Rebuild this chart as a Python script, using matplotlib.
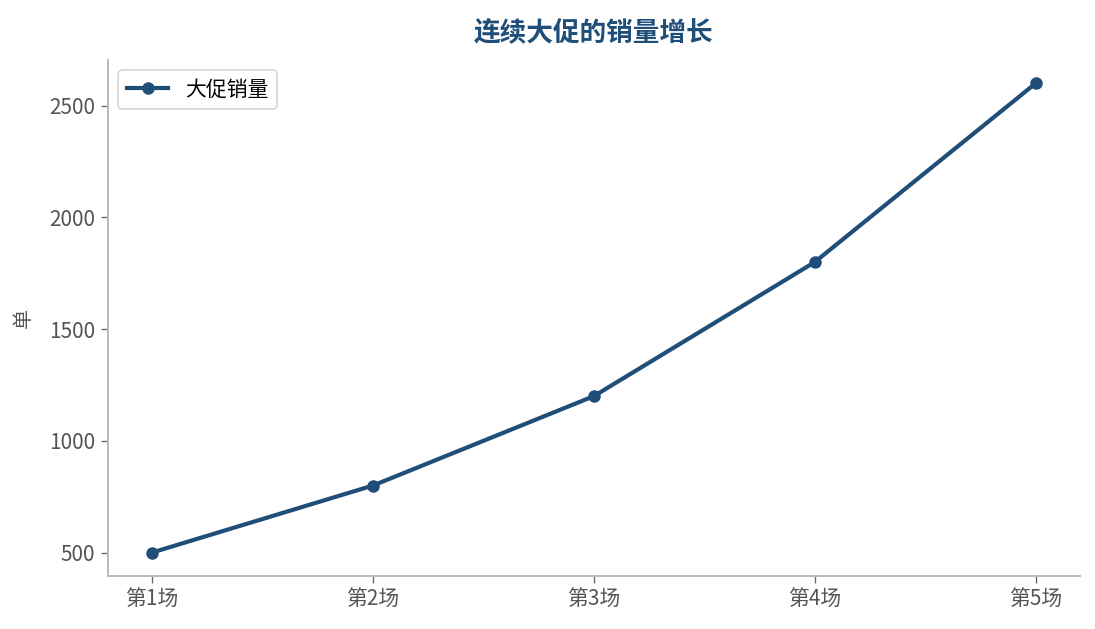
import matplotlib
matplotlib.use("Agg")
import matplotlib.pyplot as plt

plt.rcParams['font.family'] = ['Noto Sans CJK SC', 'DejaVu Sans']

categories = ["第1场", "第2场", "第3场", "第4场", "第5场"]
sales = [500, 800, 1200, 1800, 2600]
series_name = "大促销量"
title = "连续大促的销量增长"
ylabel = "单"

color = "#1f4e79"
DPI = 120
fig = plt.figure(figsize=(1095 / DPI, 629 / DPI), dpi=DPI)
ax = fig.add_axes([0.0986, 0.0843, 0.8874, 0.8203])
ax.plot(range(len(categories)), sales, color=color, linewidth=2.5, marker='o',
        markersize=6.5, label=series_name)
ax.set_xticks(range(len(categories)))
ax.set_xticklabels(categories)
ax.set_title(title, fontsize=16, fontweight='bold', color=color, pad=12)
ax.set_ylabel(ylabel, fontsize=12, color="#555555", labelpad=9)
for s in ['top', 'right']:
    ax.spines[s].set_visible(False)
for s in ['left', 'bottom']:
    ax.spines[s].set_color("#bbbbbb")
    ax.spines[s].set_linewidth(1.2)
ax.tick_params(labelcolor="#555555", labelsize=12.5, length=4, color="#666666")
leg = ax.legend(loc='upper left', fontsize=12.5, frameon=True)
leg.get_frame().set_edgecolor("#cccccc")
fig.savefig("out.png", dpi=DPI)
